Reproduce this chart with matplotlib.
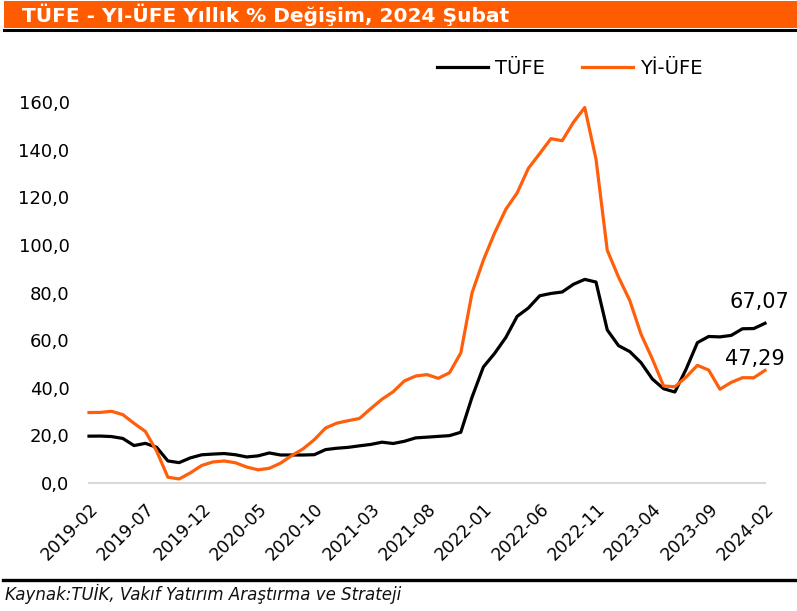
import matplotlib.pyplot as plt
from matplotlib.patches import Rectangle
from matplotlib.lines import Line2D

# Monthly annual % change, 2019-02 .. 2024-02
months = [f"{y}-{m:02d}" for y in range(2019, 2025) for m in range(1, 13)][1:62]

tufe = [19.67, 19.71, 19.50, 18.71, 15.72, 16.65, 15.01, 9.26, 8.55, 10.56, 11.84,
        12.15, 12.37, 11.86, 10.94, 11.39, 12.62, 11.76, 11.77, 11.75, 11.89, 14.03, 14.60,
        14.97, 15.61, 16.19, 17.14, 16.59, 17.53, 18.95, 19.25, 19.58, 19.89, 21.31, 36.08,
        48.69, 54.44, 61.14, 69.97, 73.50, 78.62, 79.60, 80.21, 83.45, 85.51, 84.39, 64.27,
        57.68, 55.18, 50.51, 43.68, 39.59, 38.21, 47.83, 58.94, 61.53, 61.36, 61.98, 64.77,
        64.86, 67.07]

yiufe = [29.59, 29.64, 30.12, 28.71, 25.04, 21.66, 13.45, 2.45, 1.70, 4.26, 7.36,
         8.84, 9.26, 8.50, 6.71, 5.53, 6.17, 8.33, 11.53, 14.33, 18.20, 23.11, 25.15,
         26.16, 27.09, 31.20, 35.17, 38.33, 42.89, 44.92, 45.52, 43.96, 46.31, 54.62, 79.89,
         93.53, 105.01, 114.97, 121.82, 132.16, 138.31, 144.61, 143.75, 151.50, 157.69, 136.02, 97.72,
         86.46, 76.61, 62.45, 52.11, 40.76, 40.42, 44.50, 49.41, 47.44, 39.39, 42.25, 44.22,
         44.20, 47.29]

yticks = [0, 20, 40, 60, 80, 100, 120, 140, 160]

W, H = 797, 611
fig = plt.figure(figsize=(W / 100, H / 100), dpi=100)

# title bar
fig.patches.append(Rectangle((4 / W, 1 - 28 / H), 1, 27 / H, transform=fig.transFigure,
                             facecolor='#FF5B00', edgecolor='none'))
fig.add_artist(Line2D([4 / W, 1], [1 - 29.5 / H] * 2, color='black', lw=2.2))
fig.text(22 / W, 1 - 14.5 / H, "TÜFE - YI-ÜFE Yıllık % Değişim, 2024 Şubat",
         color='white', fontsize=14.5, fontweight='bold', va='center', ha='left')

# footer
fig.add_artist(Line2D([3 / W, 1], [1 - 580 / H] * 2, color='black', lw=2.4))
fig.text(5 / W, 1 - 594 / H, "Kaynak:TUİK, Vakıf Yatırım Araştırma ve Strateji",
         fontsize=12, fontstyle='italic', va='center', ha='left', color='#111111')

# plot area
ax = fig.add_axes([89 / W, 1 - 483 / H, (765 - 89) / W, (483 - 102) / H])
x = list(range(len(months)))
ax.plot(x, tufe, color='black', lw=2.3, label='TÜFE', clip_on=False, solid_joinstyle='round')
ax.plot(x, yiufe, color='#FF5F0A', lw=2.3, label='Yİ-ÜFE', clip_on=False, solid_joinstyle='round')

ax.set_xlim(0, len(months) - 1)
ax.set_ylim(0, 160)
ax.set_yticks(yticks)
ax.set_yticklabels([f"{v:.1f}".replace('.', ',') for v in yticks], fontsize=13)
ax.set_xticks(x[::5])
ax.set_xticklabels(months[::5], rotation=45, ha='right', va='top',
                   rotation_mode='anchor', fontsize=12.5)
ax.tick_params(axis='y', length=0, pad=14)
ax.tick_params(axis='x', length=0, pad=12)
for s in ['top', 'right', 'left']:
    ax.spines[s].set_visible(False)
ax.spines['bottom'].set_color('#D9D9D9')
ax.spines['bottom'].set_linewidth(1.5)

# end labels
ax.annotate(f"{tufe[-1]:.2f}".replace('.', ','), (x[-1], tufe[-1]), xytext=(-4, 8),
            textcoords='offset points', ha='center', va='bottom', fontsize=15)
ax.annotate(f"{yiufe[-1]:.2f}".replace('.', ','), (x[-1], yiufe[-1]), xytext=(-7, 1),
            textcoords='offset points', ha='center', va='bottom', fontsize=15)

fig.legend(loc='center', bbox_to_anchor=(570 / W, 1 - 68 / H), ncol=2, frameon=False,
           fontsize=14, handlelength=2.6, columnspacing=1.9, handletextpad=0.4)

plt.savefig('out.png', dpi=100)
plt.close(fig)
